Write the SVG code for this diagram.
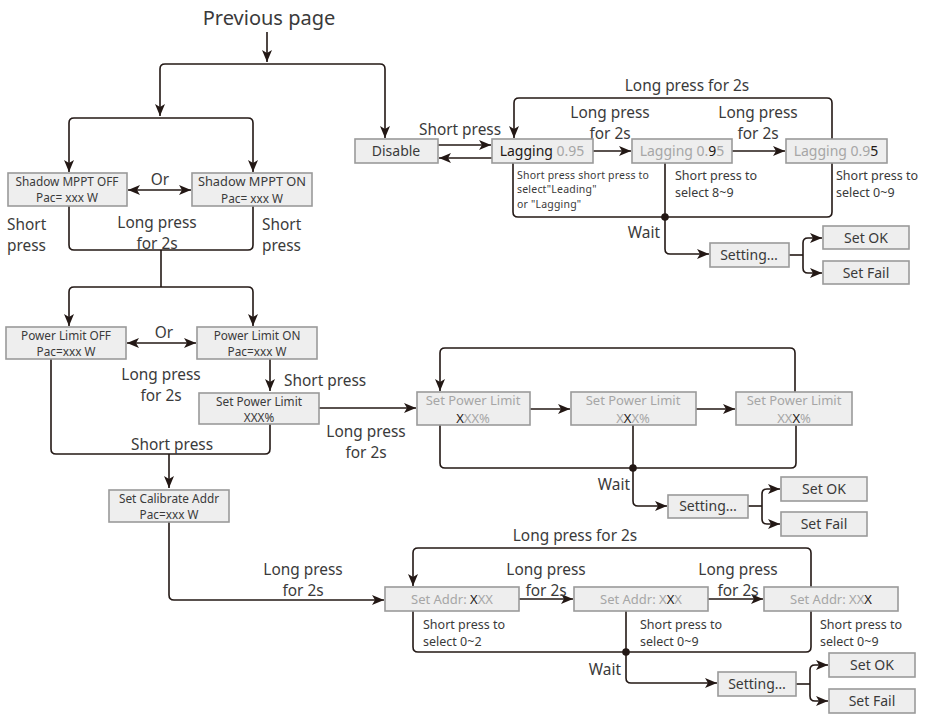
<svg xmlns="http://www.w3.org/2000/svg" width="930" height="715" viewBox="0 0 930 715">
<defs>
<marker id="ah" viewBox="0 0 12 10" refX="12" refY="5" markerWidth="12" markerHeight="10" markerUnits="userSpaceOnUse" orient="auto-start-reverse">
<path d="M0,0 L12,5 L0,10 L3,5 z" fill="#231815"/>
</marker>
<style>
.box{fill:#eeeeee;stroke:#9a9a9a;stroke-width:1.6}
.ln{fill:none;stroke:#231815;stroke-width:1.6}
.ar{fill:none;stroke:#231815;stroke-width:1.6;marker-end:url(#ah)}
.da{fill:none;stroke:#231815;stroke-width:1.6;marker-end:url(#ah);marker-start:url(#ah)}
text{font-family:"Noto Sans","Open Sans","DejaVu Sans",sans-serif;fill:#3a3a3a}
.lb{font-size:15.4px}
.bt{font-size:13px;text-anchor:middle}
.b2{font-size:11.8px;text-anchor:middle}
.sm{font-size:12.5px}
.xs{font-size:10.5px;letter-spacing:0.2px}
.g{fill:#a6a6a6}
.d{fill:#231815}
.c{text-anchor:middle}
</style>
</defs>
<rect width="930" height="715" fill="#ffffff"/>

<g id="connectors">
<path class="ar" d="M267,32 L267,62"/>
<path class="ar" d="M267,64 L165,64 Q160,64 160,69 L160,116"/>
<path class="ar" d="M267,64 L380,64 Q385,64 385,69 L385,138"/>
<path class="ar" d="M160,118 L74,118 Q69,118 69,123 L69,172"/>
<path class="ar" d="M160,118 L248,118 Q253,118 253,123 L253,172"/>
<path class="da" d="M128,190 L191,190"/>
<path class="ln" d="M69,206 L69,245 Q69,250 74,250 L248,250 Q253,250 253,245 L253,206"/>
<path class="ln" d="M161,250 L161,287"/>
<path class="ar" d="M161,287 L74,287 Q69,287 69,292 L69,326"/>
<path class="ar" d="M161,287 L248,287 Q253,287 253,292 L253,326"/>
<path class="da" d="M127,343 L196,343"/>
<path class="ar" d="M270,359 L270,391"/>
<path class="ln" d="M51,359 L51,449 Q51,454 56,454 L265,454 Q270,454 270,449 L270,424"/>
<path class="ar" d="M169,454 L169,488"/>
<path class="ar" d="M319,408 L416,408"/>
<path class="ar" d="M530,409 L570,409"/>
<path class="ar" d="M696,409 L735,409"/>
<path class="ar" d="M795,392 L795,353 Q795,348 790,348 L445,348 Q440,348 440,353 L440,391"/>
<path class="ln" d="M440,425 L440,463 Q440,468 445,468 L791,468 Q796,468 796,463 L796,425"/>
<path class="ln" d="M633,425 L633,468"/>
<circle cx="633" cy="468" r="3.8" fill="#231815"/>
<path class="ar" d="M633,468 L633,501 Q633,506 638,506 L667,506"/>
<path class="ln" d="M748,506 L762,506"/>
<path class="ar" d="M762,506 L762,494 Q762,489 767,489 L780,489"/>
<path class="ar" d="M762,506 L762,519 Q762,524 767,524 L780,524"/>
<path class="ar" d="M169,522 L169,595 Q169,600 174,600 L384,600"/>
<path class="ar" d="M519,599 L573,599"/>
<path class="ar" d="M708,599 L763,599"/>
<path class="ar" d="M811,587 L811,553 Q811,548 806,548 L418,548 Q413,548 413,553 L413,586"/>
<path class="ln" d="M413,611 L413,647 Q413,652 418,652 L806,652 Q811,652 811,647 L811,611"/>
<path class="ln" d="M626,611 L626,652"/>
<circle cx="626" cy="652" r="3.8" fill="#231815"/>
<path class="ar" d="M626,652 L626,678 Q626,683 631,683 L717,683"/>
<path class="ln" d="M796,684 L810,684"/>
<path class="ar" d="M810,684 L810,670 Q810,665 815,665 L828,665"/>
<path class="ar" d="M810,684 L810,696 Q810,701 815,701 L828,701"/>
<path class="ar" d="M438,145 L491,145"/>
<path class="ar" d="M492,158 L439,158"/>
<path class="ar" d="M593,151 L631,151"/>
<path class="ar" d="M732,151 L785,151"/>
<path class="ar" d="M832,139 L832,103 Q832,98 827,98 L519,98 Q514,98 514,103 L514,138"/>
<path class="ln" d="M513,163 L513,212 Q513,217 518,217 L827,217 Q832,217 832,212 L832,163"/>
<path class="ln" d="M665,163 L665,217"/>
<circle cx="665" cy="217" r="3.8" fill="#231815"/>
<path class="ar" d="M665,217 L665,249 Q665,254 670,254 L709,254"/>
<path class="ln" d="M789,255 L803,255"/>
<path class="ar" d="M803,255 L803,243 Q803,238 808,238 L822,238"/>
<path class="ar" d="M803,255 L803,268 Q803,273 808,273 L822,273"/>
</g>

<g id="labels">
<text x="269" y="25" class="c" style="font-size:20px">Previous page</text>
<text x="160" y="185" class="lb c">Or</text>
<text x="7" y="230" class="lb">Short</text>
<text x="7" y="251" class="lb">press</text>
<text x="262" y="230" class="lb">Short</text>
<text x="262" y="251" class="lb">press</text>
<text x="157" y="228" class="lb c">Long press</text>
<text x="157" y="249" class="lb c">for 2s</text>
<text x="164" y="338" class="lb c">Or</text>
<text x="161" y="380" class="lb c">Long press</text>
<text x="161" y="401" class="lb c">for 2s</text>
<text x="284" y="386" class="lb">Short press</text>
<text x="172" y="450" class="lb c">Short press</text>
<text x="366" y="437" class="lb c">Long press</text>
<text x="366" y="458" class="lb c">for 2s</text>
<text x="630" y="490" class="lb" text-anchor="end">Wait</text>
<text x="303" y="575" class="lb c">Long press</text>
<text x="303" y="596" class="lb c">for 2s</text>
<text x="575" y="541" class="lb c">Long press for 2s</text>
<text x="546" y="575" class="lb c">Long press</text>
<text x="546" y="596" class="lb c">for 2s</text>
<text x="738" y="575" class="lb c">Long press</text>
<text x="738" y="596" class="lb c">for 2s</text>
<text x="423" y="629" class="sm">Short press to</text>
<text x="423" y="646" class="sm">select 0~2</text>
<text x="640" y="629" class="sm">Short press to</text>
<text x="640" y="646" class="sm">select 0~9</text>
<text x="820" y="629" class="sm">Short press to</text>
<text x="820" y="646" class="sm">select 0~9</text>
<text x="621" y="675" class="lb" text-anchor="end">Wait</text>
<text x="460" y="135" class="lb c">Short press</text>
<text x="687" y="91" class="lb c">Long press for 2s</text>
<text x="610" y="118" class="lb c">Long press</text>
<text x="610" y="139" class="lb c">for 2s</text>
<text x="758" y="118" class="lb c">Long press</text>
<text x="758" y="139" class="lb c">for 2s</text>
<text x="517" y="179" class="xs">Short press short press to</text>
<text x="517" y="193.4" class="xs">select"Leading"</text>
<text x="517" y="207.8" class="xs">or "Lagging"</text>
<text x="675" y="180" class="sm">Short press to</text>
<text x="675" y="197" class="sm">select 8~9</text>
<text x="836" y="180" class="sm">Short press to</text>
<text x="836" y="197" class="sm">select 0~9</text>
<text x="660" y="238" class="lb" text-anchor="end">Wait</text>
</g>

<g id="shadow-off"><rect class="box" x="8" y="173" width="119" height="33"/>
<text x="67" y="186" class="b2">Shadow MPPT OFF</text>
<text x="67" y="202" class="b2">Pac= xxx W</text></g>
<g id="shadow-on"><rect class="box" x="192" y="173" width="120" height="33"/>
<text x="252" y="186" class="b2" style="font-size:12.8px">Shadow MPPT ON</text>
<text x="252" y="202.5" class="b2">Pac= xxx W</text></g>
<g id="pl-off"><rect class="box" x="6" y="327" width="120" height="32"/>
<text x="66" y="340" class="b2">Power Limit OFF</text>
<text x="66" y="356" class="b2">Pac=xxx W</text></g>
<g id="pl-on"><rect class="box" x="197" y="327" width="120" height="32"/>
<text x="257" y="340" class="b2">Power Limit ON</text>
<text x="257" y="356" class="b2">Pac=xxx W</text></g>
<g id="set-pl"><rect class="box" x="199" y="393" width="120" height="31"/>
<text x="259" y="405.5" class="b2">Set Power Limit</text>
<text x="259" y="421.5" class="b2">XXX%</text></g>
<g id="calib"><rect class="box" x="109" y="490" width="120" height="32"/>
<text x="169" y="503" class="b2">Set Calibrate Addr</text>
<text x="169" y="519" class="b2">Pac=xxx W</text></g>

<g id="spl1"><rect class="box" x="417" y="392" width="113" height="33"/>
<text x="473" y="405" class="bt g">Set Power Limit</text>
<text x="473" y="423" class="bt"><tspan class="d">X</tspan><tspan class="g">XX%</tspan></text></g>
<g id="spl2"><rect class="box" x="571" y="392" width="125" height="33"/>
<text x="633" y="405" class="bt g">Set Power Limit</text>
<text x="633" y="423" class="bt"><tspan class="g">X</tspan><tspan class="d">X</tspan><tspan class="g">X%</tspan></text></g>
<g id="spl3"><rect class="box" x="736" y="392" width="116" height="33"/>
<text x="794" y="405" class="bt g">Set Power Limit</text>
<text x="794" y="423" class="bt"><tspan class="g">XX</tspan><tspan class="d">X</tspan><tspan class="g">%</tspan></text></g>
<g id="setting2"><rect class="box" x="668" y="495" width="80" height="23"/>
<text x="708" y="511" class="bt" style="font-size:14px">Setting…</text></g>
<g id="ok2"><rect class="box" x="781" y="477" width="86" height="24"/>
<text x="824" y="494" class="bt" style="font-size:14px">Set OK</text></g>
<g id="fail2"><rect class="box" x="781" y="512" width="86" height="24"/>
<text x="824" y="529" class="bt" style="font-size:14px">Set Fail</text></g>

<g id="addr1"><rect class="box" x="385" y="587" width="134" height="24"/>
<text x="452" y="604" class="bt"><tspan class="g">Set Addr: </tspan><tspan class="d">X</tspan><tspan class="g">XX</tspan></text></g>
<g id="addr2"><rect class="box" x="574" y="587" width="134" height="24"/>
<text x="641" y="604" class="bt"><tspan class="g">Set Addr: X</tspan><tspan class="d">X</tspan><tspan class="g">X</tspan></text></g>
<g id="addr3"><rect class="box" x="764" y="587" width="134" height="24"/>
<text x="831" y="604" class="bt"><tspan class="g">Set Addr: XX</tspan><tspan class="d">X</tspan></text></g>
<g id="setting3"><rect class="box" x="718" y="672" width="78" height="24"/>
<text x="757" y="689" class="bt" style="font-size:14px">Setting…</text></g>
<g id="ok3"><rect class="box" x="829" y="653" width="86" height="24"/>
<text x="872" y="670" class="bt" style="font-size:14px">Set OK</text></g>
<g id="fail3"><rect class="box" x="829" y="689" width="86" height="24"/>
<text x="872" y="706" class="bt" style="font-size:14px">Set Fail</text></g>

<g id="disable"><rect class="box" x="355" y="139" width="83" height="24"/>
<text x="396" y="156" class="bt" style="font-size:14px">Disable</text></g>
<g id="lag1"><rect class="box" x="492" y="139" width="101" height="24"/>
<text x="542" y="156" class="bt" style="font-size:14px"><tspan class="d">Lagging </tspan><tspan class="g">0.95</tspan></text></g>
<g id="lag2"><rect class="box" x="632" y="139" width="100" height="24"/>
<text x="682" y="156" class="bt" style="font-size:14px"><tspan class="g">Lagging 0.</tspan><tspan class="d">9</tspan><tspan class="g">5</tspan></text></g>
<g id="lag3"><rect class="box" x="786" y="139" width="101" height="24"/>
<text x="836" y="156" class="bt" style="font-size:14px"><tspan class="g">Lagging 0.9</tspan><tspan class="d">5</tspan></text></g>
<g id="setting1"><rect class="box" x="710" y="243" width="79" height="24"/>
<text x="749" y="260" class="bt" style="font-size:14px">Setting…</text></g>
<g id="ok1"><rect class="box" x="823" y="226" width="86" height="23"/>
<text x="866" y="243" class="bt" style="font-size:14px">Set OK</text></g>
<g id="fail1"><rect class="box" x="823" y="261" width="86" height="23"/>
<text x="866" y="278" class="bt" style="font-size:14px">Set Fail</text></g>
</svg>
